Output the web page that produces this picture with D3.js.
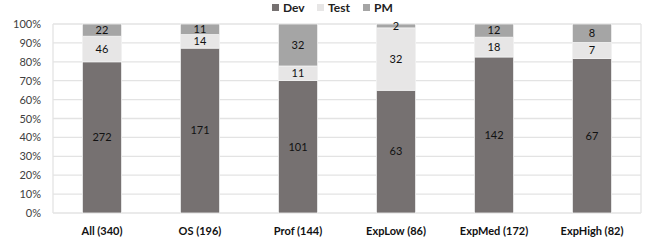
<!DOCTYPE html>
<html><head><meta charset="utf-8">
<script src="https://cdn.jsdelivr.net/npm/d3@7"></script>
<style>body{margin:0;background:#fff}svg{display:block}text{font-family:Lato,"Open Sans",sans-serif}</style>
</head><body><svg id="c" width="645" height="243"></svg>
<script>
const categories = ["All (340)","OS (196)","Prof (144)","ExpLow (86)","ExpMed (172)","ExpHigh (82)"];
const seriesNames = ["Dev","Test","PM"];
const devValues  = [272,171,101,63,142,67];
const testValues = [46,14,11,32,18,7];
const pmValues   = [22,11,32,2,12,8];
const yTicks = [0,0.1,0.2,0.3,0.4,0.5,0.6,0.7,0.8,0.9,1];
const colors = ["#767171","#E7E6E6","#A5A5A5"];

const rows = categories.map((c,i)=>{
  const tot = devValues[i]+testValues[i]+pmValues[i];
  return {cat:c, Dev:devValues[i]/tot, Test:testValues[i]/tot, PM:pmValues[i]/tot,
          raw:{Dev:devValues[i],Test:testValues[i],PM:pmValues[i]}};
});
const svg = d3.select("#c");
const L=53,R=641,T=24,B=213;
const x = d3.scaleBand().domain(categories).range([L,R]).paddingInner(0.6).paddingOuter(0.3);
const y = d3.scaleLinear().domain([0,1]).range([B,T]);

// gridlines
svg.append("g").selectAll("line").data(yTicks).join("line")
  .attr("x1",L).attr("x2",R).attr("y1",d=>y(d)).attr("y2",d=>y(d))
  .attr("stroke","#e3e3e3").attr("stroke-width",1.3);
svg.append("line").attr("x1",L).attr("x2",L).attr("y1",T).attr("y2",B).attr("stroke","#e3e3e3").attr("stroke-width",1.3);
svg.append("line").attr("x1",R).attr("x2",R).attr("y1",T).attr("y2",B).attr("stroke","#e3e3e3").attr("stroke-width",1.3);

// y axis
const ya = svg.append("g").attr("transform",`translate(${L},0)`)
  .call(d3.axisLeft(y).tickValues(yTicks).tickFormat(d3.format(".0%")).tickSize(0).tickPadding(12));
ya.select(".domain").remove();
ya.selectAll("text").attr("font-size",11).attr("fill","#404040").attr("font-family","Lato,sans-serif");

const stack = d3.stack().keys(seriesNames)(rows);
const g = svg.append("g");
stack.forEach((s,si)=>{
  g.append("g").selectAll("rect").data(s).join("rect")
    .attr("x",d=>x(d.data.cat)).attr("width",x.bandwidth())
    .attr("y",d=>y(d[1])).attr("height",d=>y(d[0])-y(d[1]))
    .attr("fill",colors[si]).attr("stroke","#f2f2f2").attr("stroke-width",0.8);
  g.append("g").selectAll("text").data(s).join("text")
    .attr("x",d=>x(d.data.cat)+x.bandwidth()/2)
    .attr("y",d=>(y(d[0])+y(d[1]))/2)
    .attr("dy","0.35em").attr("text-anchor","middle")
    .attr("font-size",11).attr("fill","#111")
    .text(d=>d.data.raw[seriesNames[si]]);
});

// x axis labels
const xa = svg.append("g").attr("transform",`translate(0,${B})`)
  .call(d3.axisBottom(x).tickSize(0).tickPadding(14));
xa.select(".domain").remove();
xa.selectAll("text").attr("font-size",11).attr("font-weight","bold").attr("fill","#111").attr("font-family","Lato,sans-serif");

// legend
const legX = [272,317,363];
const lg = svg.append("g");
seriesNames.forEach((n,i)=>{
  lg.append("rect").attr("x",legX[i]).attr("y",4).attr("width",7).attr("height",7).attr("fill",colors[i]);
  lg.append("text").attr("x",legX[i]+11).attr("y",8).attr("dy","0.35em").attr("font-size",12).attr("font-weight","bold").attr("fill","#222").text(n);
});
</script></body></html>
